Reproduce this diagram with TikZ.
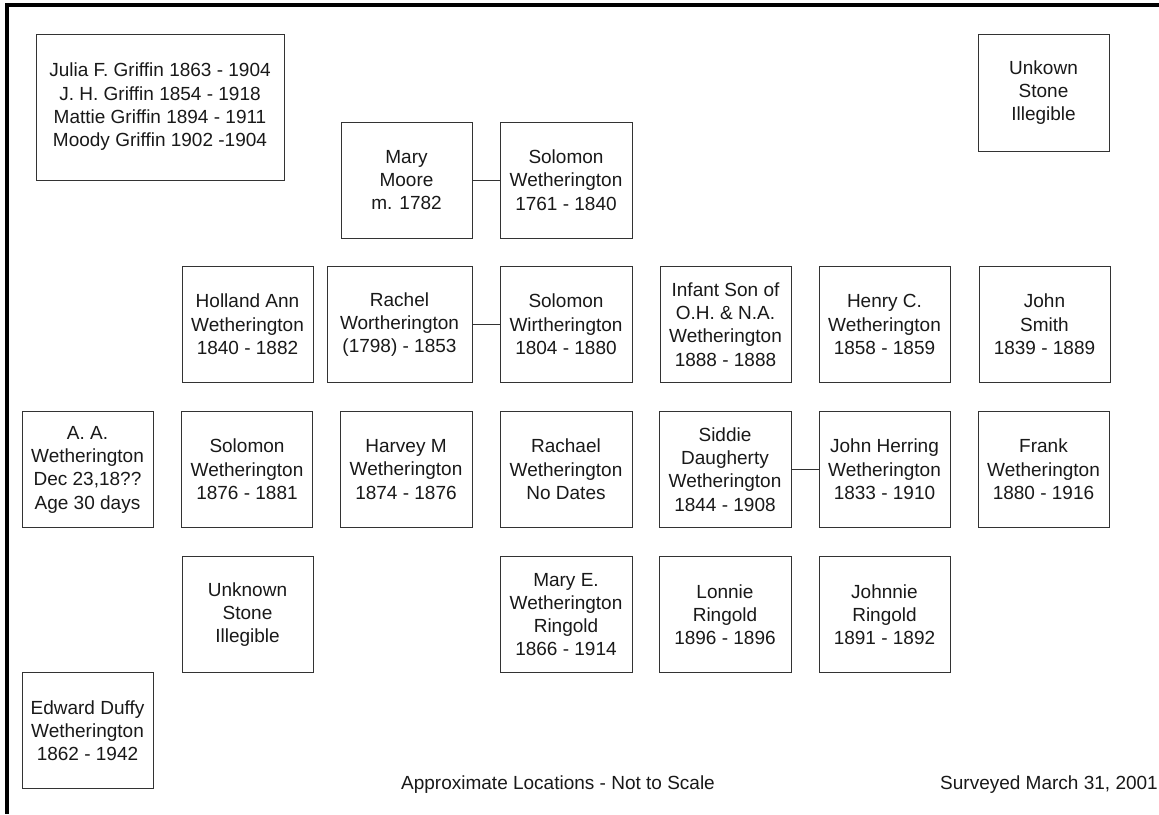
\documentclass[tikz,border=0pt]{standalone}
\usepackage{fontspec}
\setmainfont{Liberation Sans}
\begin{document}
\begin{tikzpicture}[x=1pt,y=-1pt,
  stone/.style={draw=black!80, line width=0.9pt, align=center, inner sep=0pt,
    minimum width=131pt, minimum height=116pt, text=black!90,
    font=\fontsize{19}{23.3}\selectfont},
  link/.style={draw=black!80, line width=0.9pt},
  frameline/.style={draw=black, line width=3.5pt},
  caption/.style={font=\fontsize{19}{23}\selectfont, text=black!90, inner sep=0pt}]
\useasboundingbox (0,0) rectangle (1159,814);
\fill[white] (0,0) rectangle (1159,814);
% frame
\coordinate (ftl) at (7,5);
\coordinate (ftr) at (1159,5);
\coordinate (fbl) at (7,814);
\draw[frameline] (ftr) -- (ftl) -- (fbl);
% top boxes
\node[stone, minimum width=248pt, minimum height=146pt] (griffin) at (160,107)
  {Julia F. Griffin 1863 - 1904\\J. H. Griffin 1854 - 1918\\Mattie Griffin 1894 - 1911\\Moody Griffin 1902 -1904};
\node[stone, minimum height=117pt] (unk1) at (1043.5,92.5) {Unkown\\Stone\\Illegible};
\node[stone] (mary) at (406.5,180) {Mary\\Moore\\m. 1782};
\node[stone, minimum width=132pt] (sol1) at (566,180) {Solomon\\Wetherington\\1761 - 1840};
% row 2
\node[stone] (holland) at (247.5,324.5) {Holland Ann\\Wetherington\\1840 - 1882};
\node[stone, minimum width=145pt] (rachel) at (399.5,324.5) {Rachel\\Wortherington\\(1798) - 1853};
\node[stone, minimum width=132pt] (sol2) at (566,324.5) {Solomon\\Wirtherington\\1804 - 1880};
\node[stone] (infant) at (725.5,324.5) {Infant Son of\\O.H. \& N.A.\\Wetherington\\1888 - 1888};
\node[stone] (henry) at (884.5,324.5) {Henry C.\\Wetherington\\1858 - 1859};
\node[stone] (smith) at (1044.5,324.5) {John\\Smith\\1839 - 1889};
% row 3
\node[stone] (aa) at (87.5,469.5) {A. A.\\Wetherington\\Dec 23,18??\\Age 30 days};
\node[stone] (sol3) at (247,469.5) {Solomon\\Wetherington\\1876 - 1881};
\node[stone, minimum width=132pt] (harvey) at (406,469.5) {Harvey M\\Wetherington\\1874 - 1876};
\node[stone, minimum width=132pt] (rachael) at (566,469.5) {Rachael\\Wetherington\\No Dates};
\node[stone, minimum width=132pt] (siddie) at (725,469.5) {Siddie\\Daugherty\\Wetherington\\1844 - 1908};
\node[stone] (herring) at (884.5,469.5) {John Herring\\Wetherington\\1833 - 1910};
\node[stone] (frank) at (1043.5,469.5) {Frank\\Wetherington\\1880 - 1916};
% row 4
\node[stone] (unk2) at (247.5,614.5) {Unknown\\Stone\\Illegible};
\node[stone, minimum width=132pt] (marye) at (566,614.5) {Mary E.\\Wetherington\\Ringold\\1866 - 1914};
\node[stone, minimum width=132pt] (lonnie) at (725,614.5) {Lonnie\\Ringold\\1896 - 1896};
\node[stone] (johnnie) at (884.5,614.5) {Johnnie\\Ringold\\1891 - 1892};
% bottom left
\node[stone] (edward) at (87.5,730.5) {Edward Duffy\\Wetherington\\1862 - 1942};
% connectors
\draw[link] (mary) -- (sol1);
\draw[link] (rachel) -- (sol2);
\draw[link] (siddie) -- (herring);
% captions
\node[caption] (approx) at (558,785) {Approximate Locations - Not to Scale};
\node[caption] (surveyed) at (1049,785) {Surveyed March 31, 2001};
\end{tikzpicture}
\end{document}
